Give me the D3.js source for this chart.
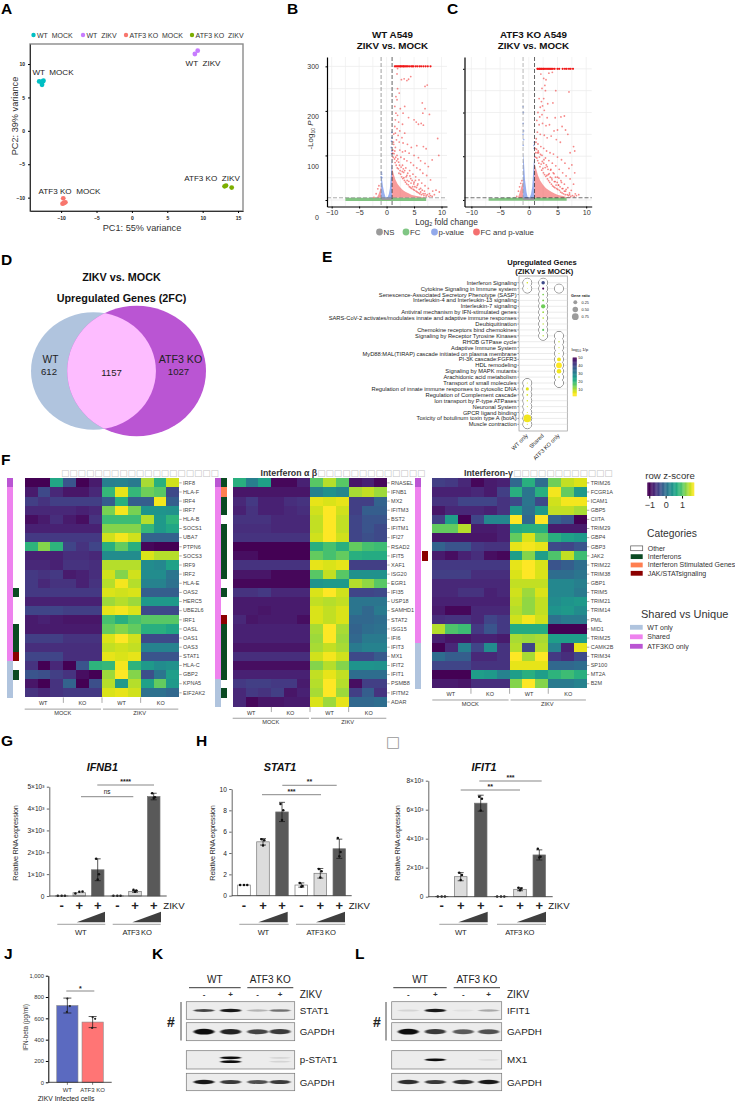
<!DOCTYPE html>
<html>
<head>
<meta charset="utf-8">
<script src="https://cdn.jsdelivr.net/npm/d3@7/dist/d3.min.js"></script>
<style>
  body { margin: 0; background: #fff; }
  text { font-family: "Liberation Sans", Arial, sans-serif; white-space: pre; }
</style>
</head>
<body>
<div id="figure"></div>
<script>
// PCA (panel A)
let pcaGroups = ['WT  MOCK', 'WT  ZIKV', 'ATF3 KO  MOCK', 'ATF3 KO  ZIKV'];
let pcaColors = ['#00bfc4', '#c77cff', '#f8766d', '#7cae00'];
let pcaPc1 = [[-13.1, -12.8, -12.6, -12.7, -12.5], [8.9, 9.3], [-9.7, -9.8, -9.4, -9.6], [13.1, 13.3, 14.1]];
let pcaPc2 = [[7.4, 7.3, 7.4, 6.9, 7.5], [11.5, 12], [-10.1, -10.9, -10.7, -10.8], [-8.3, -8.2, -8.5]];

// Volcano (panels B, C) - envelopes of the solid masses and the single points on top
let volB = {
  redFc: [1, 1.3, 1.6, 2, 2.5, 3, 3.5, 4, 4.5, 5, 5.5, 6, 6.5, 7, 7.5],
  redTop: [72, 58, 46, 36, 28, 22, 18, 15, 12, 10, 9, 8, 7, 6, 5],
  redLeftFc: [-1.8, -1.5, -1.2, -1],
  redLeftTop: [5, 12, 22, 32],
  blueLeftFc: [-1, -0.85, -0.65, -0.4, -0.2, 0],
  blueLeftTop: [55, 48, 30, 15, 7, 5],
  blueRightFc: [0, 0.2, 0.4, 0.6, 0.8, 1],
  blueRightTop: [5, 7, 13, 26, 58, 98],
  blueFc: [0.95, 0.9, 0.85, 0.98, 0.92, 0.97, -0.95, -0.9, -1, -0.85],
  blueP: [152, 132, 118, 110, 104, 140, 62, 58, 52, 50],
  greenFc: [-7.5, -6, -4, -2, -1, 1, 2, 4, 6, 7.2],
  greenTop: [5, 5, 5, 5, 5, 5, 5, 5, 5, 5],
  topFc: [1.5, 1.7, 1.9, 2.1, 2.3, 2.5, 2.6, 2.8, 3, 3.1, 3.3, 3.5, 3.7, 3.9, 4.2, 4.5, 4.7, 4.9, 5.3, 5.6, 6, 6.3, 6.7, 7.1, 7.5, 8],
  redPts: [[2, 295], [1.9, 283], [2.7, 270], [3.2, 272], [3.7, 268], [4, 271], [4.4, 277], [2, 250], [2.3, 240], [1.7, 232], [1.9, 225], [7, 255], [7.4, 258], [6.5, 218], [7, 205], [6.6, 195], [7.8, 192], [6.3, 172], [6.7, 168], [5, 180], [5.4, 175], [5.8, 170], [1.5, 210], [2.5, 205], [3.3, 210], [1.7, 195], [2, 190], [3, 195], [4, 185], [1.6, 180], [2.2, 175], [2.9, 170], [1.5, 165], [1.9, 160], [2.4, 155], [1.6, 150], [2.1, 145], [2.8, 140], [3.3, 150], [1.3, 148], [1.8, 135], [2.3, 130], [3, 128], [3.8, 125], [4.5, 118], [5.5, 122], [6.7, 120], [7.2, 115], [9.3, 138], [9.5, 100], [8.3, 90], [1.3, 125], [1.6, 118], [2.4, 112], [2.9, 108], [3.4, 110], [4.1, 105], [5, 100], [5.8, 95], [6.2, 88], [7, 82], [7.6, 75], [1.9, 100], [2.6, 96], [3.2, 92], [3.7, 88], [4.4, 84], [4.9, 78], [5.5, 72], [6.1, 68], [6.6, 60], [7.3, 55], [8, 45], [2.2, 85], [2.9, 78], [3.5, 72], [4.2, 66], [4.8, 58], [5.3, 52], [5.9, 45], [6.4, 38], [7, 32], [7.6, 26], [8.4, 20], [9, 22], [9.6, 18], [3.1, 62], [3.7, 55], [4.4, 48], [5, 40], [5.6, 33], [6.2, 26], [6.9, 20], [7.8, 14], [-1.6, 25], [-1.4, 32], [-1.9, 14], [-2.3, 6],
    [1.1, 105], [1.2, 96], [1.15, 112], [1.25, 130], [1.35, 104], [1.45, 92], [1.5, 110], [1.55, 84], [1.65, 96], [1.75, 78], [1.85, 88], [1.95, 72], [2.05, 92], [2.15, 70], [2.25, 60], [2.35, 78], [2.45, 66], [2.55, 58], [2.65, 74], [2.75, 52], [2.85, 64], [2.95, 48], [3.05, 70], [3.15, 50], [3.25, 44], [3.3, 66], [3.45, 40], [3.55, 52], [3.65, 36], [3.75, 44], [3.85, 60], [3.95, 34], [4.05, 42], [4.15, 30], [4.25, 54], [4.35, 28], [4.45, 38], [4.55, 26], [4.65, 44], [4.75, 30], [4.85, 24], [4.95, 36], [5.05, 22], [5.15, 30], [5.25, 44], [5.35, 20], [5.45, 28], [5.55, 18], [5.7, 36], [5.8, 16], [5.95, 24], [6.05, 14], [6.2, 18], [6.35, 12], [6.5, 22], [6.65, 14], [6.8, 10], [7, 14], [7.2, 9], [7.4, 12], [7.7, 8], [8, 10], [8.3, 8], [8.7, 12]]
};
let volC = {
  redFc: [1, 1.3, 1.6, 2, 2.5, 3, 3.5, 4, 4.5, 5, 5.5, 6, 6.5, 7, 7.5],
  redTop: [84, 70, 56, 44, 34, 27, 22, 18, 15, 12, 10, 9, 7, 6, 5],
  redLeftFc: [-1.9, -1.6, -1.3, -1],
  redLeftTop: [5, 16, 30, 42],
  blueLeftFc: [-1, -0.85, -0.65, -0.4, -0.2, 0],
  blueLeftTop: [108, 88, 45, 18, 7, 5],
  blueRightFc: [0, 0.2, 0.4, 0.6, 0.8, 1],
  blueRightTop: [5, 7, 14, 30, 72, 112],
  blueFc: [-1, -0.95, -0.98, -0.92, -1, -0.9, -0.97, 0.95, 0.9, 0.98],
  blueP: [213, 200, 175, 158, 150, 138, 125, 118, 125, 132],
  greenFc: [-7, -6, -4, -2, -1, 1, 2, 4, 6, 6.6],
  greenTop: [4, 4, 5, 5, 5, 5, 5, 5, 5, 5],
  topFc: [1.5, 1.6, 1.8, 1.9, 2, 2.2, 2.3, 2.5, 2.6, 2.8, 3, 3.2, 3.4, 3.6, 3.8, 4, 4.2, 4.5, 5, 5.3, 5.9, 6.3, 6.6, 7, 7.3, 7.7],
  redPts: [[2.1, 288], [2.6, 278], [3, 275], [3.5, 290], [4.1, 292], [2.8, 262], [2.3, 255], [2.9, 250], [4.7, 250], [7, 247], [1.8, 232], [2.6, 232], [2.2, 225], [2.4, 215], [2, 212], [2.7, 205], [3.3, 220], [4.2, 222], [1.6, 200], [1.9, 190], [2.3, 195], [3.2, 188], [4.6, 188], [5.6, 190], [6.2, 192], [5.8, 168], [6.4, 160], [6.8, 150], [1.4, 182], [1.8, 172], [2.4, 175], [3, 170], [3.6, 172], [4.4, 158], [5, 160], [1.5, 155], [2, 150], [2.7, 148], [3.2, 142], [3.9, 146], [4.8, 138], [5.5, 132], [7.8, 122], [8, 112], [7.2, 108], [7.5, 80], [8, 62], [1.3, 140], [1.6, 128], [2.1, 122], [2.6, 118], [3.1, 112], [3.7, 108], [4.3, 105], [5, 98], [5.7, 92], [6.3, 84], [7, 72], [1.7, 108], [2.3, 102], [2.9, 96], [3.5, 90], [4.1, 84], [4.7, 78], [5.3, 70], [5.9, 62], [6.5, 55], [7.2, 48], [7.8, 36], [2.6, 84], [3.2, 76], [3.8, 68], [4.4, 60], [5, 52], [5.6, 44], [6.2, 36], [6.8, 28], [7.4, 22], [8.1, 14], [8.7, 12], [3.4, 58], [4, 50], [4.6, 42], [5.2, 34], [5.8, 26], [6.4, 20], [7.1, 16], [-1.6, 30], [-1.8, 20], [-1.4, 38], [-2.1, 8], [-1.2, 44],
    [1.1, 118], [1.2, 108], [1.25, 132], [1.15, 98], [1.35, 116], [1.4, 96], [1.5, 108], [1.55, 90], [1.65, 112], [1.75, 84], [1.85, 98], [1.95, 76], [2.05, 104], [2.15, 82], [2.25, 68], [2.35, 88], [2.45, 72], [2.55, 62], [2.65, 92], [2.75, 58], [2.85, 74], [2.95, 54], [3.05, 80], [3.15, 56], [3.25, 48], [3.35, 70], [3.45, 44], [3.55, 60], [3.65, 40], [3.75, 52], [3.85, 70], [3.95, 36], [4.05, 46], [4.15, 32], [4.25, 62], [4.35, 30], [4.45, 42], [4.55, 28], [4.65, 52], [4.75, 34], [4.85, 26], [4.95, 40], [5.05, 24], [5.15, 34], [5.25, 50], [5.35, 22], [5.45, 30], [5.55, 18], [5.7, 40], [5.8, 16], [5.95, 26], [6.05, 14], [6.2, 20], [6.35, 12], [6.5, 24], [6.7, 12], [6.9, 10], [7.1, 12], [7.3, 8], [7.6, 10], [7.9, 8], [8.3, 10]]
};
let volLegend = ['NS', 'FC', 'p-value', 'FC and p-value'];
let volLegendColors = ['#9a9a9a', '#80c684', '#92a9ea', '#f47070'];

// Venn (panel D)
let vennCounts = { wtOnly: 612, shared: 1157, koOnly: 1027 };

// Reactome dot plot (panel E)
let pathways = ['Interferon Signaling', 'Cytokine Signaling in Immune system', 'Senescence-Associated Secretory Phenotype (SASP)', 'Interleukin-4 and Interleukin-13 signaling', 'Interleukin-7 signaling', 'Antiviral mechanism by IFN-stimulated genes', 'SARS-CoV-2 activates/modulates innate and adaptive immune responses', 'Deubiquitination', 'Chemokine receptors bind chemokines', 'Signaling by Receptor Tyrosine Kinases', 'RHOB GTPase cycle', 'Adaptive Immune System', 'MyD88:MAL(TIRAP) cascade initiated on plasma membrane', 'PI-3K cascade:FGFR3', 'HDL remodeling', 'Signaling by MAPK mutants', 'Arachidonic acid metabolism', 'Transport of small molecules', 'Regulation of innate immune responses to cytosolic DNA', 'Regulation of Complement cascade', 'Ion transport by P-type ATPases', 'Neuronal System', 'GPCR ligand binding', 'Toxicity of botulinum toxin type A (botA)', 'Muscle contraction'];
let dotGroups = ['WT only', 'Shared', 'ATF3 KO only'];
// [row, gene ratio, log10(1/p)]
let dotsWt = [[0, 0.04, 8], [1, 0.01, 8], [17, 0.02, 8], [18, 0.16, 7], [19, 0.05, 8], [20, 0.03, 8], [21, 0.02, 8], [22, 0.02, 8], [23, 0.95, 6], [24, 0.02, 8]];
let dotsShared = [[0, 0.2, 40], [1, 0.07, 50], [2, 0.05, 14], [3, 0.06, 14], [4, 0.3, 15], [5, 0.05, 12], [6, 0.04, 10], [7, 0.03, 10], [8, 0.07, 16], [9, 0.03, 10]];
let dotsKo = [[1, 0, 8], [9, 0, 8], [10, 0.03, 9], [11, 0.02, 9], [12, 0.02, 9], [13, 0.25, 6], [14, 0.55, 5], [15, 0.35, 6], [16, 0.04, 9], [17, 0, 8]];
let ratioLegend = [0.25, 0.50, 0.75];
let pvalTicks = [50, 40, 30, 20, 10];

// Heatmaps (panel F), row z-scores read by eye: 6 MOCK then 6 ZIKV
let geneSets1 = ['IRF8', 'HLA-F', 'IRF4', 'IRF7', 'HLA-B', 'SOCS1', 'UBA7', 'PTPN6', 'SOCS3', 'IRF9', 'IRF2', 'HLA-E', 'OAS2', 'HERC5', 'UBE2L6', 'IRF1', 'OASL', 'OAS1', 'OAS3', 'STAT1', 'HLA-C', 'GBP2', 'KPNA5', 'EIF2AK2'];
let zScores1 = [
  [-1, -1, .6, -.3, -1, -.8, .15, .2, .1, 1.35, .7, 1.5],
  [-.8, -.4, -.7, -.85, -.85, -.7, .8, 1.6, .8, 1.1, 1, -.4],
  [-.5, -.6, -.5, -.5, -.5, -.5, -.2, .7, -.2, -.2, 1.65, -.2],
  [-.7, -.7, -.7, -.7, -.75, -.7, 1.15, 1.65, 1.15, .4, .4, .35],
  [-.9, -.8, -.65, -.8, -.9, -.6, .85, .85, .85, 1.4, .45, .75],
  [-.75, -.75, -.75, -.75, -.75, -.75, 1.2, 1.2, 1.2, .8, .45, .6],
  [-.55, -.55, -.55, -.55, -.55, -.55, 1.5, 1.65, 1.5, -.15, -.15, -.15],
  [.75, 1.2, .75, -.45, -.6, -.45, .7, 1.05, .7, -.95, -1, -1],
  [-.75, -.75, -.75, -.65, -.65, -.7, .3, .3, .3, 1.55, 1.4, 1.4],
  [-.7, -.7, -.75, -.6, -.6, -.65, 1.4, 1.4, 1.4, .3, .25, .55],
  [-.55, -.6, -.55, -.8, -.75, -.65, 1.5, 1.2, 1.5, .3, .3, .05],
  [-.55, -.7, -.6, -.6, -.75, -.6, 1.4, 1.65, 1.4, .2, .2, 0],
  [-.55, -.55, -.55, -.55, -.55, -.55, 1.55, 1.5, 1.55, -.2, -.2, -.2],
  [-.75, -.75, -.75, -.75, -.75, -.75, 1.3, 1.4, 1.3, .45, .45, .45],
  [-.45, -.45, -.45, -.5, -.5, -.5, 1.6, 1.65, 1.55, -.4, -.4, -.4],
  [-.8, -.75, -.8, -.85, -.85, -.85, .9, .7, .9, 1, 1, 1],
  [-.8, -.8, -.8, -.8, -.8, -.8, 1.05, 1.2, 1.05, .7, .7, .6],
  [-.5, -.5, -.5, -.6, -.6, -.6, 1.55, 1.7, 1.5, -.4, -.4, -.4],
  [-.65, -.65, -.65, -.65, -.65, -.65, 1.45, 1.5, 1.45, .2, .2, .2],
  [-.45, -.45, -.45, -.65, -.65, -.65, 1.6, 1.55, 1.6, -.3, -.3, -.3],
  [-.6, -1, -.7, -1, -.3, .75, .8, 1.65, .75, .45, .3, .35],
  [-.3, -.35, -.5, -.6, -.9, -1, 1.3, 1.7, 1.2, -.35, .05, .5],
  [-.85, -1, -.6, -.15, -1, -.35, 1.4, .45, 1.4, .55, 1.05, .45],
  [-.6, -.7, -.6, -.55, -.55, -.55, 1.55, 1.6, 1.5, 0, 0, -.1]
];
let shared1 = 'KPPPPPPPPPPPPPPPPPPPWWWW';
let cats1 = ['', '', '', '', '', '', '', '', '', '', '', '', 'I', '', '', '', 'I', 'I', 'I', 'J', '', 'I', '', ''];

let geneSets2 = ['RNASEL', 'IFNB1', 'MX2', 'IFITM3', 'BST2', 'IFITM1', 'IFI27', 'RSAD2', 'IFIT5', 'XAF1', 'ISG20', 'EGR1', 'IFI35', 'USP18', 'SAMHD1', 'STAT2', 'ISG15', 'IFI6', 'IFIT3', 'MX1', 'IFIT2', 'IFIT1', 'PSMB8', 'IFITM2', 'ADAR'];
let zScores2 = [
  [.7, .15, .55, -.95, -.95, -.75, 1, 1.4, 1, -.85, -.75, -.95],
  [-.85, -.85, -.85, -.85, -.85, -.85, .2, .35, .25, 1.35, 1.45, 1.3],
  [-.7, -.55, -.75, -.75, -.65, -.6, 1.6, 1.55, 1.6, -.5, -.5, -.15],
  [-.75, -.6, -.75, -.75, -.7, -.65, 1.5, 1.7, 1.5, -.5, -.2, -.2],
  [-.6, -.6, -.6, -.7, -.7, -.7, 1.45, 1.7, 1.45, -.45, -.3, -.3],
  [-.65, -.65, -.65, -.7, -.7, -.7, 1.45, 1.7, 1.45, -.45, -.3, -.4],
  [-.6, -.6, -.6, -.6, -.6, -.6, 1.5, 1.7, 1.5, -.45, -.35, -.4],
  [-1, -1, -1, -1, -1, -1, .7, .9, .7, 1.05, .9, .85],
  [-.9, -.9, -1, -1, -1, -1, 1.05, .9, 1.05, .7, .65, .65],
  [-.6, -.6, -.6, -.6, -.6, -.6, 1.6, 1.55, 1.6, -.5, -.5, -.5],
  [-.85, -.85, -.85, -.95, -.95, -.95, 1, 1.45, 1, .35, .35, .35],
  [-.95, -.95, -.95, -.95, -.95, -.95, .4, .45, .45, 1.4, 1.25, 1],
  [-.6, -.6, -.55, -.7, -.7, -.7, 1.55, 1.7, 1.5, -.45, -.45, -.4],
  [-.8, -.8, -.8, -.8, -.8, -.8, 1.45, 1.4, 1.45, .05, .05, .05],
  [-.8, -.8, -.85, -.8, -.8, -.8, 1.55, 1.45, 1.55, .05, -.1, .1],
  [-.7, -.85, -.8, -.8, -.8, -.9, 1.55, 1.45, 1.55, -.1, -.1, -.05],
  [-.75, -.75, -.75, -.75, -.75, -.75, 1.35, 1.7, 1.35, -.15, -.05, 0],
  [-.75, -.75, -.75, -.75, -.75, -.75, 1.3, 1.7, 1.3, -.1, .1, .1],
  [-.85, -.85, -.85, -.85, -.85, -.85, 1.35, 1.45, 1.35, .1, .2, .2],
  [-.65, -.65, -.65, -.65, -.65, -.65, 1.5, 1.65, 1.5, -.4, -.4, -.25],
  [-.9, -.9, -.9, -.9, -.9, -.9, 1.2, 1.4, 1.2, .4, .4, .35],
  [-.75, -.75, -.75, -.75, -.75, -.75, 1.45, 1.6, 1.45, -.05, -.05, -.05],
  [-.55, -.5, -.5, -.55, -.55, -.8, 1.4, 1.7, 1.4, -.9, -.5, -.5],
  [-.7, -.55, -.6, -.5, -.85, -.75, 1.35, 1.7, 1.3, -.5, -.2, -.6],
  [-.7, -.95, -.85, -.85, -.8, -.8, 1.55, 1.3, 1.6, -.1, -.1, -.05]
];
let shared2 = 'KPPPPPPPPPPPPPPPPPPPPPWWW';
let cats2 = ['I', 'S', 'I', 'I', '', 'I', 'I', 'I', 'I', 'I', 'I', '', 'I', '', '', 'J', 'I', 'I', 'I', 'I', 'I', 'I', '', 'I', ''];

let geneSets3 = ['TRIM26', 'FCGR1A', 'ICAM1', 'GBP5', 'CIITA', 'TRIM29', 'GBP4', 'GBP3', 'JAK2', 'TRIM22', 'TRIM38', 'GBP1', 'TRIM5', 'TRIM21', 'TRIM14', 'PML', 'MID1', 'TRIM25', 'CAMK2B', 'TRIM34', 'SP100', 'MT2A', 'B2M'];
let zScores3 = [
  [-.5, -.55, -.7, -.95, -.8, -.75, -.1, .7, -.05, 1.1, 1.45, 1.55],
  [-.75, -.75, -.75, -.7, -.8, -.5, .7, .05, .7, 1.65, 1.05, .45],
  [-.6, -.6, -.45, -.45, -.45, -.6, -.4, .05, -.4, 1.5, 1.65, 1.65],
  [-.85, -.7, -.7, -.7, -.75, -.6, .45, 0, .45, 1.45, 1.45, 1.35],
  [-.5, .5, -1, -.45, .25, .25, 1.7, -.1, 1.7, -.15, -.3, -1],
  [1.05, 1.05, 1.4, -.8, -.8, -.75, .65, .7, .7, -.8, -.8, -.8],
  [-.85, -.85, -.85, -.85, -.85, -.75, 1.05, 1.55, 1.05, .7, .55, .45],
  [-.15, -.3, -.3, -.55, -.6, -.6, 1.6, 1.65, 1.6, -.4, -.45, -.3],
  [-.8, -.9, -.75, -.65, -.9, -.95, .5, 1.2, .5, .95, 1.45, .85],
  [-.55, -.55, -.55, -.55, -.55, -.55, 1.6, 1.7, 1.55, -.3, -.2, -.05],
  [-.5, -.5, -.5, -.65, -.65, -.65, 1.55, 1.7, 1.55, -.05, -.05, .05],
  [-.7, -.7, -.7, -.7, -.7, -.7, 1.45, 1.45, 1.45, .25, .25, .15],
  [-.7, -.7, -.6, -.6, -.75, -.7, 1.5, 1.3, 1.55, .25, .25, .1],
  [-.75, -.75, -.75, -.75, -.75, -.75, 1.45, 1.25, 1.45, .3, .4, .45],
  [-.8, -.95, -.95, -.7, -.7, -.7, 1.4, 1.25, 1.45, .4, .45, .3],
  [-.65, -.6, -.6, -.7, -.45, -.55, 1.5, 1.65, 1.5, 0, .1, .1],
  [1.4, .95, .85, -.55, -.3, -.55, .65, .65, .65, -1, -1, -1],
  [-.75, -.85, -.85, -.75, -.75, -.8, 1.35, 1.3, 1.35, .5, .5, .5],
  [-1, -.7, .15, -.45, .3, -.6, 1.4, -.45, 1.4, .2, -.75, 1.6],
  [-.05, -.2, -.2, -.7, -.7, -.6, 1.7, 1.35, 1.7, -.55, -.65, -.4],
  [-.45, -.45, -.45, -.6, -.6, -.6, 1.6, 1.6, 1.6, -.1, -.1, -.05],
  [-1, -1, -1, .5, .45, .2, .5, .7, .5, .75, .85, .7],
  [-.8, -.8, -.85, -.65, -.65, -.65, 1.2, 1.7, 1.2, .1, .1, .2]
];
let shared3 = 'KPPPPPPPPPPPPPPPPPWWWWW';
let cats3 = ['', '', '', '', '', '', '', '', 'J', '', '', '', '', '', '', '', '', '', '', '', '', '', ''];

let catNames = ['Other', 'Interferons', 'Interferon Stimulated Genes', 'JAK/STATsignaling'];
let shareNames = ['WT only', 'Shared', 'ATF3KO only'];

// qPCR (panels G, H, I)
let conditions = ['WT-', 'WT+', 'WT++', 'KO-', 'KO+', 'KO++'];
let ifnb1Means = [5, 150, 1200, 5, 210, 4550];
let ifnb1Errs = [3, 30, 500, 3, 40, 150];
let ifnb1Pts = [[10, 10, 10], [120, 210, 200], [1700, 1000, 750], [10, 10, 10], [290, 250, 200], [4700, 4520, 4480]];
let stat1Means = [1, 5.05, 7.85, 1, 2.1, 4.4];
let stat1Errs = [.03, .3, .9, .2, .45, .9];
let stat1Pts = [[1, 1, 1], [5.3, 5.2, 4.7], [8.6, 8, 7.1], [1.2, .9, .85], [2.5, 2.3, 1.7], [5.4, 4.1, 3.7]];
let ifit1Means = [10, 1380, 6450, 10, 510, 2880];
let ifit1Errs = [5, 280, 550, 5, 100, 350];
let ifit1Pts = [[10, 10, 10], [1650, 1500, 1150], [6900, 6750, 5950], [10, 10, 10], [620, 560, 450], [3300, 2750, 2700]];

// ELISA (panel J)
let elisaGroups = ['WT', 'ATF3 KO'];
let elisaMeans = [720, 565];
let elisaErrs = [70, 52];
let elisaPts = [[785, 715, 660], [610, 595, 510]];

// Western blots (panels K, L): band strength per lane
let blotLanes = ['WT-', 'WT+', 'KO-', 'KO+'];
let stat1Band = [.75, .95, .25, .55];
let gapdhK1Band = [1, .9, .75, .8];
let pStat1Band = [0, 1, 0, .1];
let gapdhK2Band = [.95, .8, .7, .8];
let ifit1Band = [.1, .95, .05, .3];
let gapdhL1Band = [1, .8, .65, .7];
let mx1Band = [0, 1, 0, .07];
let gapdhL2Band = [.85, .8, .85, .95];

// ---------- helpers ----------
let svg = d3.select('#figure').append('svg').attr('width', 735).attr('height', 1105)
  .style('display', 'block');

let defs = svg.append('defs');
defs.append('filter').attr('id', 'bandBlur').attr('x', '-30%').attr('y', '-100%').attr('width', '160%').attr('height', '300%')
  .append('feGaussianBlur').attr('stdDeviation', '0.9 0.5');

function label(x, y, str, size, opts) {
  opts = opts || {};
  let t = svg.append('text').attr('x', x).attr('y', y).text(str)
    .attr('font-size', size)
    .attr('fill', opts.fill || '#222')
    .attr('text-anchor', opts.anchor || 'start');
  if (opts.weight) t.attr('font-weight', opts.weight);
  if (opts.italic) t.attr('font-style', 'italic');
  if (opts.spacing) t.attr('letter-spacing', opts.spacing);
  if (opts.rotate !== undefined) t.attr('transform', 'rotate(' + opts.rotate + ' ' + x + ' ' + y + ')');
  return t;
}

function panelLetter(x, y, str) {
  label(x, y, str, 15.5, { weight: 'bold', fill: '#000' });
}

function hLine(x1, x2, y, color, width) {
  svg.append('line').attr('x1', x1).attr('x2', x2).attr('y1', y).attr('y2', y)
    .attr('stroke', color).attr('stroke-width', width);
}

panelLetter(1, 13.5, 'A');
panelLetter(287, 13.5, 'B');
panelLetter(447, 13.5, 'C');
panelLetter(1, 265, 'D');
panelLetter(322, 262, 'E');
panelLetter(1, 465, 'F');
panelLetter(1, 746, 'G');
panelLetter(196, 746, 'H');
panelLetter(4, 959, 'J');
panelLetter(152, 959, 'K');
panelLetter(355, 959, 'L');
label(393, 747, '\u25A1', 15, { fill: '#999', anchor: 'middle' }).style('font-family', 'DejaVu Sans');

// ---------- panel A ----------
function drawPca() {
  let x = d3.scaleLinear().domain([-14.4, 15.7]).range([30, 243]);
  let y = d3.scaleLinear().domain([-12, 13]).range([211, 44]);
  svg.append('rect').attr('x', 30).attr('y', 44).attr('width', 213).attr('height', 167)
    .attr('fill', 'none').attr('stroke', '#8a8a8a').attr('stroke-width', 1.4);
  let xAxis = svg.append('g').attr('transform', 'translate(0,211)')
    .call(d3.axisBottom(x).tickValues([-10, -5, 0, 5, 10, 15]).tickSize(2).tickSizeOuter(0));
  let yAxis = svg.append('g').attr('transform', 'translate(30,0)')
    .call(d3.axisLeft(y).tickValues([-10, -5, 0, 5, 10]).tickSize(2).tickSizeOuter(0));
  [xAxis, yAxis].forEach(function (a) {
    a.selectAll('text').attr('font-size', 5).attr('font-weight', 'bold').attr('fill', '#222');
    a.select('.domain').attr('stroke', '#333');
  });
  pcaGroups.forEach(function (group, i) {
    svg.append('g').selectAll('circle').data(pcaPc1[i]).enter().append('circle')
      .attr('cx', function (d) { return x(d); })
      .attr('cy', function (d, j) { return y(pcaPc2[i][j]); })
      .attr('r', 2.4).attr('fill', pcaColors[i]);
  });
  label(142, 230.5, 'PC1: 55% variance', 9.2, { anchor: 'middle', fill: '#333' });
  label(18, 116, 'PC2: 39% variance', 9.2, { anchor: 'middle', rotate: -90, fill: '#333' });
  label(53, 74.5, pcaGroups[0], 8.1, { anchor: 'middle' });
  label(203, 66, pcaGroups[1], 8.1, { anchor: 'middle' });
  label(69.5, 193.5, pcaGroups[2], 8.1, { anchor: 'middle' });
  label(212, 181, pcaGroups[3], 8.1, { anchor: 'middle' });
  // legend on top
  let legendX = d3.scaleOrdinal().domain(pcaGroups).range([33.5, 83, 126, 192]);
  pcaGroups.forEach(function (group, i) {
    svg.append('circle').attr('cx', legendX(group)).attr('cy', 35).attr('r', 2.2).attr('fill', pcaColors[i]);
    label(legendX(group) + 3.5, 37.6, group, 7, { fill: '#333' });
  });
}
drawPca();

// ---------- panels B, C ----------
function drawVolcano(vol, o) {
  let x = d3.scaleLinear().domain(o.xDomain).range([o.left, o.right]);
  let y = d3.scaleLinear().domain(o.yDomain).range([206.5, 57]);
  let g = svg.append('g');

  // grid
  g.selectAll('.vgrid').data([-10, -7.5, -5, -2.5, 0, 2.5, 5, 7.5, 10]).enter().append('line')
    .attr('x1', function (d) { return x(d); }).attr('x2', function (d) { return x(d); })
    .attr('y1', 57).attr('y2', 206).attr('stroke', '#eeeeee').attr('stroke-width', 0.7);
  g.selectAll('.hgrid').data([0, 50, 100, 150, 200, 250, 300]).enter().append('line')
    .attr('x1', o.left).attr('x2', o.right)
    .attr('y1', function (d) { return y(d); }).attr('y2', function (d) { return y(d); })
    .attr('stroke', '#ececec').attr('stroke-width', 0.8);

  function mass(fcs, tops, base, color, op) {
    let rows = fcs.map(function (f, i) { return { fc: f, top: tops[i] }; });
    g.append('path').datum(rows)
      .attr('d', d3.area().x(function (d) { return x(d.fc); }).y0(y(base)).y1(function (d) { return y(d.top); }))
      .attr('fill', color).attr('opacity', op);
  }
  mass(vol.greenFc, vol.greenTop, -2, '#6dbb6d', 0.85);
  mass([-1, -0.4, 0.4, 1], [5, 6, 6, 5], 0, '#9a9a9a', 1);
  mass(vol.blueLeftFc, vol.blueLeftTop, 4, '#7f9bea', 0.8);
  mass(vol.blueRightFc, vol.blueRightTop, 4, '#7f9bea', 0.8);
  mass(vol.redFc, vol.redTop, 5, '#f24a4a', 0.55);
  mass(vol.redLeftFc, vol.redLeftTop, 5, '#f24a4a', 0.55);

  g.selectAll('.blue').data(vol.blueFc).enter().append('circle')
    .attr('cx', function (d) { return x(d); })
    .attr('cy', function (d, i) { return y(vol.blueP[i]); })
    .attr('r', 0.9).attr('fill', '#7f9bea').attr('opacity', 0.75);
  g.selectAll('.red').data(vol.redPts).enter().append('circle')
    .attr('cx', function (d) { return x(d[0]); })
    .attr('cy', function (d) { return y(d[1]); })
    .attr('r', 0.9).attr('fill', '#f03a3a').attr('opacity', 0.6);
  g.selectAll('.top').data(vol.topFc).enter().append('circle')
    .attr('cx', function (d) { return x(d); })
    .attr('cy', y(300))
    .attr('r', 1.1).attr('fill', '#f01818');

  // cut-offs
  [[-1, o.leftCut], [1, '#222']].forEach(function (c) {
    g.append('line').attr('x1', x(c[0])).attr('x2', x(c[0])).attr('y1', 57).attr('y2', 206)
      .attr('stroke', c[1]).attr('stroke-width', 0.7).attr('stroke-dasharray', '4 2');
  });
  g.append('line').attr('x1', o.left).attr('x2', o.right).attr('y1', y(5)).attr('y2', y(5))
    .attr('stroke', o.hCut).attr('stroke-width', 0.7).attr('stroke-dasharray', '4 2');

  // axes
  let xAxis = g.append('g').attr('transform', 'translate(0,206.5)')
    .call(d3.axisBottom(x).tickValues([-10, -5, 0, 5, 10]).tickSize(2).tickSizeOuter(0).tickFormat(d3.format('d')));
  let yAxis = g.append('g').attr('transform', 'translate(' + o.left + ',0)')
    .call(d3.axisLeft(y).tickValues([0, 100, 200, 300]).tickSize(1.5).tickSizeOuter(0).tickFormat(''));
  xAxis.selectAll('text').attr('font-size', 7.2).attr('fill', '#333').attr('dy', '0.55em');
  xAxis.select('.domain').attr('stroke', '#000').attr('stroke-width', 1.2);
  yAxis.select('.domain').attr('stroke', '#000').attr('stroke-width', 1.2);

  label(o.titleX, 38, o.title, 9.8, { weight: 'bold', anchor: 'middle', fill: '#111' });
  label(o.titleX, 48.5, 'ZIKV vs. MOCK', 9.8, { weight: 'bold', anchor: 'middle', fill: '#111' });
}
drawVolcano(volB, { xDomain: [-10.85, 11], yDomain: [-14.6, 321], left: 327, right: 447, leftCut: '#777', hCut: '#888', titleX: 392.5, title: 'WT A549' });
drawVolcano(volC, { xDomain: [-11.2, 10.96], yDomain: [-15, 327], left: 464.5, right: 591.7, leftCut: '#999', hCut: '#333', titleX: 533.5, title: 'ATF3 KO A549' });

// the y labels sit lower than their ticks in the reference, so they get a scale of their own
let volLabelY = d3.scaleLinear().domain([0, 300]).range([219.5, 68.5]);
[0, 100, 200, 300].forEach(function (v) {
  label(319, volLabelY(v), v, 7, { anchor: 'end', fill: '#333' });
});
let logLabel = label(313, 135, '-Log', 8, { anchor: 'middle', rotate: -90, fill: '#333' });
logLabel.append('tspan').attr('font-size', 5).attr('dy', 1.6).text('10');
logLabel.append('tspan').attr('dy', -1.6).attr('font-style', 'italic').text(' P');
let fcLabel = label(446.5, 224.5, 'Log', 8.4, { anchor: 'middle', fill: '#333' });
fcLabel.append('tspan').attr('font-size', 5.4).attr('dy', 1.6).text('2');
fcLabel.append('tspan').attr('dy', -1.6).text(' fold change');
let volLegendX = d3.scaleOrdinal().domain(volLegend).range([379.5, 406, 434.5, 476.5]);
volLegend.forEach(function (name, i) {
  svg.append('circle').attr('cx', volLegendX(name)).attr('cy', 232).attr('r', 3.4).attr('fill', volLegendColors[i]);
  label(volLegendX(name) + 4, 234.7, name, 7.8, { fill: '#333' });
});

// ---------- panel D ----------
function drawVenn() {
  let radius = d3.scaleSqrt().domain([0, vennCounts.shared + vennCounts.koOnly]).range([0, 69.4]);
  let rWt = radius(vennCounts.wtOnly + vennCounts.shared);
  let rKo = radius(vennCounts.shared + vennCounts.koOnly);
  let cy = 371;
  let squash = 0.94;
  let wtX = 31 + rWt;
  let koX = 206 - rKo;
  defs.append('clipPath').attr('id', 'wtClip').append('ellipse')
    .attr('cx', wtX).attr('cy', cy).attr('rx', rWt).attr('ry', rWt * squash);
  svg.append('ellipse').attr('cx', wtX).attr('cy', cy).attr('rx', rWt).attr('ry', rWt * squash).attr('fill', '#b0c4de');
  svg.append('ellipse').attr('cx', koX).attr('cy', cy).attr('rx', rKo).attr('ry', rKo * squash).attr('fill', '#ba55d3');
  svg.append('ellipse').attr('cx', koX).attr('cy', cy).attr('rx', rKo).attr('ry', rKo * squash)
    .attr('fill', '#fdbcff').attr('clip-path', 'url(#wtClip)');
  label(121.5, 281, 'ZIKV vs. MOCK', 10.8, { weight: 'bold', anchor: 'middle', fill: '#111' });
  label(121.5, 301.5, 'Upregulated Genes (2FC)', 10.8, { weight: 'bold', anchor: 'middle', fill: '#111' });
  label(50.5, 362.5, 'WT', 10.2, { anchor: 'middle' });
  label(49, 375, vennCounts.wtOnly, 9.6, { anchor: 'middle' });
  label(111.5, 375.5, vennCounts.shared, 9.6, { anchor: 'middle' });
  label(180.5, 362.5, 'ATF3 KO', 10.6, { anchor: 'middle' });
  label(178.5, 375, vennCounts.koOnly, 9.6, { anchor: 'middle' });
}
drawVenn();

// ---------- panel E ----------
function drawDots() {
  let y = d3.scalePoint().domain(d3.range(pathways.length)).range([282.7, 424.3]);
  let x = d3.scalePoint().domain(dotGroups).range([527.3, 559]);
  let size = d3.scaleSqrt().domain([0, 1]).range([0, 3.9]);
  let color = d3.scaleSequential(function (t) { return d3.interpolateViridis(1 - t); }).domain([5, 50]);

  svg.append('rect').attr('x', 519).attr('y', 276).attr('width', 48.3).attr('height', 155)
    .attr('fill', '#fff').attr('stroke', '#999').attr('stroke-width', 0.7);
  svg.append('g').selectAll('line').data(pathways).enter().append('line')
    .attr('x1', 519).attr('x2', 567.3)
    .attr('y1', function (d, i) { return y(i); }).attr('y2', function (d, i) { return y(i); })
    .attr('stroke', '#e2e2e2').attr('stroke-width', 0.7);

  [[dotsWt, 'WT only'], [dotsShared, 'Shared'], [dotsKo, 'ATF3 KO only']].forEach(function (set) {
    let g = svg.append('g');
    // outlined circles first and white ones over them, so runs read as a capsule
    g.selectAll('.ring').data(set[0]).enter().append('circle')
      .attr('cx', x(set[1])).attr('cy', function (d) { return y(d[0]); })
      .attr('r', 4.4).attr('fill', '#fff').attr('stroke', '#222').attr('stroke-width', 0.6);
    g.selectAll('.fill').data(set[0]).enter().append('circle')
      .attr('cx', x(set[1])).attr('cy', function (d) { return y(d[0]); })
      .attr('r', 4.1).attr('fill', '#fff');
    g.selectAll('.dot').data(set[0]).enter().append('circle')
      .attr('cx', x(set[1])).attr('cy', function (d) { return y(d[0]); })
      .attr('r', function (d) { return size(d[1]); })
      .attr('fill', function (d) { return color(d[2]); });
  });

  pathways.forEach(function (name, i) {
    hLine(517.3, 519, y(i), '#555', 0.5);
    label(516.6, y(i) + 2, name, 5.75, { anchor: 'end', fill: '#222' });
  });
  x.domain().forEach(function (name) {
    label(x(name) + 1, 436, name, 5.6, { anchor: 'end', rotate: -45, fill: '#222' });
  });

  label(542, 265, 'Upregulated Genes', 7.6, { anchor: 'middle', weight: 'bold', fill: '#111' });
  label(544.3, 273.5, '(ZIKV vs MOCK)', 7.6, { anchor: 'middle', weight: 'bold', fill: '#111' });

  // ratio legend
  label(580.5, 297, 'Gene ratio', 3.8, { anchor: 'middle', weight: 'bold' });
  let ratioY = d3.scalePoint().domain(ratioLegend).range([302.3, 316.7]);
  ratioLegend.forEach(function (r) {
    svg.append('circle').attr('cx', 575.3).attr('cy', ratioY(r)).attr('r', size(r)).attr('fill', '#9c9c9c');
    label(581.5, ratioY(r) + 1.5, r.toFixed(2), 3.8);
  });

  // log10 1/p legend
  let barY = d3.scaleLinear().domain([50, 10]).range([357.5, 389.5]);
  let steps = d3.range(50, 2, -1);
  svg.append('g').selectAll('rect').data(steps).enter().append('rect')
    .attr('x', 572.7).attr('width', 4).attr('y', function (d) { return barY(d); }).attr('height', 1.2)
    .attr('fill', function (d) { return color(d); });
  pvalTicks.forEach(function (v) {
    label(578.3, barY(v) + 1.5, v, 3.8);
  });
  let pTitle = label(571.5, 351, 'log', 4.4);
  pTitle.append('tspan').attr('font-size', 3.2).attr('dy', 1).text('10');
  pTitle.append('tspan').attr('dy', -1).text(' 1/p');
}
drawDots();

// ---------- panel F ----------
let zColor = d3.scaleSequential(d3.interpolateViridis).domain([-1, 1.7]);
let shareColor = { K: '#ba55d3', P: '#ee82ee', W: '#b0c4de' };
let catColor = { I: '#0a4a22', S: '#ff7f50', J: '#8b0000' };

function drawHeat(genes, z, shared, cats, o) {
  let rowH = 9.13;
  let y = d3.scaleBand().domain(genes).range([478.3, 478.3 + genes.length * rowH]);
  let x = d3.scaleBand().domain(d3.range(12)).range([o.left, o.left + 154.6]);
  let g = svg.append('g').attr('shape-rendering', 'crispEdges');
  z.forEach(function (row, i) {
    g.selectAll('.c' + i).data(row).enter().append('rect')
      .attr('x', function (d, j) { return x(j); })
      .attr('y', y(genes[i]))
      .attr('width', function (d, j) { return j === 11 ? x.bandwidth() : x.bandwidth() + 0.6; })
      .attr('height', i === genes.length - 1 ? y.bandwidth() : y.bandwidth() + 0.6)
      .attr('fill', function (d) { return zColor(d); });
  });
  // row side bars
  g.selectAll('.share').data(genes).enter().append('rect')
    .attr('x', o.shareX).attr('width', 6)
    .attr('y', function (d) { return y(d); }).attr('height', y.bandwidth() + 0.5)
    .attr('fill', function (d, i) { return shareColor[shared[i]]; });
  g.selectAll('.cat').data(genes).enter().append('rect')
    .attr('x', o.shareX + 6.3).attr('width', 6)
    .attr('y', function (d) { return y(d); }).attr('height', y.bandwidth() + 0.5)
    .attr('fill', function (d, i) { return cats[i] ? catColor[cats[i]] : 'none'; });

  let right = o.left + 154.6;
  let axis = svg.append('g').attr('transform', 'translate(' + right + ',0)')
    .call(d3.axisRight(y).tickSize(2.4).tickPadding(1.4));
  axis.select('.domain').remove();
  axis.selectAll('line').attr('stroke', '#555').attr('stroke-width', 0.5);
  axis.selectAll('text').attr('font-size', 5.5).attr('fill', '#444');

  // column groups under the heatmap
  let bottom = 478.3 + genes.length * rowH;
  let groupX = d3.scalePoint().domain(['WT', 'KO', 'WT2', 'KO2']).range([o.left + 18.5, o.left + 136]);
  groupX.domain().forEach(function (name) {
    label(groupX(name), bottom + 8, name.slice(0, 2), 5.5, { anchor: 'middle', fill: '#333' });
  });
  [x(3), x(6), x(9)].forEach(function (tx) {
    svg.append('line').attr('x1', tx).attr('x2', tx).attr('y1', bottom).attr('y2', bottom + 5.5)
      .attr('stroke', '#555').attr('stroke-width', 0.5);
  });
  hLine(o.left, x(6) - 1, bottom + 11.7, '#777', 0.7);
  hLine(x(6) + 1, right - 1, bottom + 11.7, '#777', 0.7);
  label(o.left + 38, bottom + 17.5, 'MOCK', 5.7, { anchor: 'middle', fill: '#333' });
  label(o.left + 115, bottom + 17.5, 'ZIKV', 5.7, { anchor: 'middle', fill: '#333' });

  // titles: the CJK part of these titles comes out as empty boxes in the reference
  let t = label(o.titleX, 476, o.title, 8.8, { weight: 'bold', fill: '#333' });
  t.append('tspan').attr('fill', '#c4c4c4').attr('font-weight', 'normal')
    .style('font-family', 'DejaVu Sans').text(o.boxes);
}
drawHeat(geneSets1, zScores1, shared1, cats1, { left: 24.7, shareX: 7, titleX: 61, title: '', boxes: '\u25A1'.repeat(19) });
drawHeat(geneSets2, zScores2, shared2, cats2, { left: 232.7, shareX: 215, titleX: 260.5, title: 'Interferon \u03B1 \u03B2', boxes: '\u25A1'.repeat(13) });
drawHeat(geneSets3, zScores3, shared3, cats3, { left: 432.3, shareX: 415.3, titleX: 464, title: 'Interferon-\u03B3', boxes: '\u25A1'.repeat(12) });

// colour key
function drawKeys() {
  label(670, 479, 'row z-score', 9.6, { anchor: 'middle', fill: '#333' });
  let zx = d3.scaleLinear().domain([-1.12, 1.73]).range([647.3, 694]);
  let steps = d3.range(-1.12, 1.73, 0.05);
  svg.append('g').selectAll('rect').data(steps).enter().append('rect')
    .attr('x', function (d) { return zx(d); }).attr('y', 482.5).attr('height', 13.5)
    .attr('width', 1.1).attr('fill', function (d) { return zColor(d); });
  let a = svg.append('g').attr('transform', 'translate(0,496)')
    .call(d3.axisBottom(zx).tickValues([-1, 0, 1]).tickSize(2.5).tickSizeOuter(0).tickFormat(function (d) { return d < 0 ? '\u22121' : d; }));
  a.select('.domain').remove();
  a.selectAll('text').attr('font-size', 9).attr('fill', '#333');

  label(672, 536.5, 'Categories', 10.3, { anchor: 'middle', fill: '#333' });
  let catY = d3.scalePoint().domain(catNames).range([548.3, 573.3]);
  let catFill = { 'Other': '#fff', 'Interferons': catColor.I, 'Interferon Stimulated Genes': catColor.S, 'JAK/STATsignaling': catColor.J };
  catNames.forEach(function (name) {
    svg.append('rect').attr('x', 630.7).attr('y', catY(name) - 2.4).attr('width', 12).attr('height', 4.8)
      .attr('fill', catFill[name]).attr('stroke', name === 'Other' ? '#555' : 'none').attr('stroke-width', 0.7);
    label(647.7, catY(name) + 2.3, name, 7, { fill: '#333' });
  });

  label(684.7, 617.5, 'Shared vs Unique', 11, { anchor: 'middle', fill: '#333' });
  let shareY = d3.scalePoint().domain(shareNames).range([627.3, 646.3]);
  let shareFill = { 'WT only': shareColor.W, 'Shared': shareColor.P, 'ATF3KO only': shareColor.K };
  shareNames.forEach(function (name) {
    svg.append('rect').attr('x', 630).attr('y', shareY(name) - 2.4).attr('width', 12.7).attr('height', 4.8)
      .attr('fill', shareFill[name]);
    label(647.3, shareY(name) + 2.3, name, 7, { fill: '#333' });
  });
}
drawKeys();

// ---------- panels G, H, I ----------
function drawBars(o) {
  let y = d3.scaleLinear().domain([0, o.max]).range([o.y0, o.yTop]);
  let x = d3.scaleOrdinal().domain(conditions).range(o.centers);
  let fills = ['#fff', '#dcdcdc', '#595959', '#fff', '#dcdcdc', '#595959'];
  let bw = 12.6;
  let g = svg.append('g');

  g.selectAll('.bar').data(o.means).enter().append('rect')
    .attr('x', function (d, i) { return x(conditions[i]) - bw / 2; })
    .attr('width', bw)
    .attr('y', function (d) { return y(d); })
    .attr('height', function (d) { return o.y0 - y(d); })
    .attr('fill', function (d, i) { return fills[i]; })
    .attr('stroke', '#777').attr('stroke-width', 0.7);

  o.means.forEach(function (m, i) {
    let cx = x(conditions[i]);
    let hi = y(m + o.errs[i]);
    let lo = y(Math.max(m - o.errs[i], 0));
    if (lo - hi > 1.5) {
      g.append('line').attr('x1', cx).attr('x2', cx).attr('y1', hi).attr('y2', lo).attr('stroke', '#111').attr('stroke-width', 0.7);
      g.append('line').attr('x1', cx - 3).attr('x2', cx + 3).attr('y1', hi).attr('y2', hi).attr('stroke', '#111').attr('stroke-width', 0.7);
      g.append('line').attr('x1', cx - 3).attr('x2', cx + 3).attr('y1', lo).attr('y2', lo).attr('stroke', '#111').attr('stroke-width', 0.7);
    }
    g.selectAll('.p' + i).data(o.pts[i]).enter().append('circle')
      .attr('cx', function (d, j) { return cx + [-3, 2.5, 0][j] * (lo - hi > 1.5 ? 0.5 : 1.3); })
      .attr('cy', function (d) { return y(d); })
      .attr('r', 1.25).attr('fill', '#111');
  });

  let yAxis = g.append('g').attr('transform', 'translate(' + o.axisX + ',0)')
    .call(d3.axisLeft(y).tickValues(o.ticks).tickSize(2.5).tickSizeOuter(0).tickFormat(o.format));
  yAxis.selectAll('text').attr('font-size', 6.6).attr('fill', '#222').attr('dx', '0.1em');
  yAxis.select('.domain').attr('stroke', '#666').attr('stroke-width', 1);
  yAxis.selectAll('line').attr('stroke', '#666');
  hLine(o.axisX, o.axisEnd, o.y0, '#444', 0.9);

  label(o.titleX, 770.5, o.title, 10.8, { weight: 'bold', italic: true, anchor: 'middle', fill: '#111' });
  label(o.ylabelX, 843, 'Relative RNA expression', 7.4, { anchor: 'middle', rotate: -90, fill: '#333', spacing: -0.28 });

  // signs, dose wedges, group lines
  ['-', '+', '+', '-', '+', '+'].forEach(function (s, i) {
    label(x(conditions[i]), 909.5, s, 13, { weight: 'bold', anchor: 'middle', fill: '#222' });
  });
  label(o.zikvX, 908.5, 'ZIKV', 9.6, { fill: '#222' });
  o.wedges.forEach(function (w) {
    svg.append('path').attr('d', d3.line()([[w[0], 922.3], [w[1], 922.3], [w[1], 911.7]])).attr('fill', '#3f3f3f');
  });
  o.lines.forEach(function (l) { hLine(l[0], l[1], 924.3, '#888', 0.8); });
  label(o.wtX, 934.5, 'WT', 7.6, { anchor: 'middle', fill: '#222', spacing: -0.3 });
  label(o.koX, 934.5, 'ATF3 KO', 7.6, { anchor: 'middle', fill: '#222', spacing: -0.3 });

  o.sig.forEach(function (s) {
    hLine(s[0], s[1], s[2], '#555', 0.7);
    label((s[0] + s[1]) / 2 + (s[4] || 0), s[2] - (s[3] === 'ns' ? 3 : 1.2), s[3], s[3] === 'ns' ? 6.4 : 7, { anchor: 'middle', weight: s[3] === 'ns' ? 'normal' : 'bold', fill: '#222' });
  });
}
function expFormat(d) { return d === 0 ? '0' : (d / 1000) + '\u00D710\u00B3'; }

drawBars({
  title: 'IFNB1', titleX: 102.3, ylabelX: 18, axisX: 49.3, axisEnd: 166.7, y0: 896, yTop: 786.7, max: 5000,
  centers: [61.7, 79.3, 97.7, 117.3, 135, 153.7], means: ifnb1Means, errs: ifnb1Errs, pts: ifnb1Pts,
  ticks: [0, 1000, 2000, 3000, 4000, 5000], format: expFormat, zikvX: 163.3,
  wedges: [[76.7, 105], [132.3, 161]], lines: [[57.3, 105.3], [112.7, 160.7]], wtX: 80.7, koX: 137,
  sig: [[97.3, 154, 785, '****'], [81, 133.3, 796.7, 'ns']]
});
drawBars({
  title: 'STAT1', titleX: 280, ylabelX: 215, axisX: 231.7, axisEnd: 351.7, y0: 895.7, yTop: 789, max: 10,
  centers: [244, 263, 282, 301.3, 320.3, 339.3], means: stat1Means, errs: stat1Errs, pts: stat1Pts,
  ticks: [0, 2, 4, 6, 8, 10], format: d3.format('d'), zikvX: 348.7,
  wedges: [[258.3, 287.7], [316, 345]], lines: [[239.3, 288.7], [296, 345.3]], wtX: 263.3, koX: 321,
  sig: [[282.3, 336.7, 785.3, '**'], [262, 321, 794.7, '***']]
});
drawBars({
  title: 'IFIT1', titleX: 484, ylabelX: 400, axisX: 428.3, axisEnd: 552.7, y0: 896.7, yTop: 780.7, max: 8000,
  centers: [441.7, 460.7, 480.7, 501, 520, 539.3], means: ifit1Means, errs: ifit1Errs, pts: ifit1Pts,
  ticks: [0, 2000, 4000, 6000, 8000], format: expFormat, zikvX: 548.3,
  wedges: [[458.3, 487.7], [516.7, 546]], lines: [[439.3, 487.7], [497, 546]], wtX: 460.7, koX: 519.7,
  sig: [[479.3, 541.7, 781, '***'], [460.7, 520, 790, '**']]
});

// ---------- panel J ----------
function drawElisa() {
  let y = d3.scaleLinear().domain([0, 1000]).range([1082.3, 975.7]);
  let x = d3.scaleBand().domain(elisaGroups).range([52.7, 107.3]).padding(0.16);
  let fills = ['#5b6ac0', '#ff7575'];
  let g = svg.append('g');
  g.selectAll('rect').data(elisaMeans).enter().append('rect')
    .attr('x', function (d, i) { return x(elisaGroups[i]); })
    .attr('width', x.bandwidth())
    .attr('y', function (d) { return y(d); })
    .attr('height', function (d) { return y(0) - y(d); })
    .attr('fill', function (d, i) { return fills[i]; })
    .attr('stroke', '#888').attr('stroke-width', 0.6);
  elisaGroups.forEach(function (name, i) {
    let cx = x(name) + x.bandwidth() / 2;
    let hi = y(elisaMeans[i] + elisaErrs[i]);
    let lo = y(elisaMeans[i] - elisaErrs[i]);
    g.append('line').attr('x1', cx).attr('x2', cx).attr('y1', hi).attr('y2', lo).attr('stroke', '#111').attr('stroke-width', 0.7);
    g.append('line').attr('x1', cx - 4).attr('x2', cx + 4).attr('y1', hi).attr('y2', hi).attr('stroke', '#111').attr('stroke-width', 0.7);
    g.append('line').attr('x1', cx - 4).attr('x2', cx + 4).attr('y1', lo).attr('y2', lo).attr('stroke', '#111').attr('stroke-width', 0.7);
    g.selectAll('.pt' + i).data(elisaPts[i]).enter().append('circle')
      .attr('cx', function (d, j) { return cx + [0, 2.5, -0.5][j]; })
      .attr('cy', function (d) { return y(d); })
      .attr('r', 1.1).attr('fill', '#222');
  });
  let yAxis = g.append('g').attr('transform', 'translate(48.3,0)')
    .call(d3.axisLeft(y).tickValues([0, 200, 400, 600, 800, 1000]).tickSize(2.5).tickSizeOuter(0));
  yAxis.selectAll('text').attr('font-size', 5.8).attr('fill', '#333').attr('dx', '0.2em');
  let xAxis = g.append('g').attr('transform', 'translate(0,1082.3)');
  hLine(48.3, 111.7, 1082.3, '#222', 0.8);
  elisaGroups.forEach(function (name) {
    let cx = x(name) + x.bandwidth() / 2;
    xAxis.append('line').attr('x1', cx).attr('x2', cx).attr('y1', 0).attr('y2', 2.5).attr('stroke', '#222').attr('stroke-width', 0.6);
    label(cx, 1092, name, 6, { anchor: 'middle', fill: '#333' });
  });
  hLine(66.3, 94.3, 991, '#555', 0.7);
  label(80.3, 991, '*', 7, { anchor: 'middle', weight: 'bold' });
  label(28, 1027.5, 'IFN-beta (pg/ml)', 6.4, { anchor: 'middle', rotate: -90, fill: '#333' });
  label(66, 1101, 'ZIKV Infected cells', 6.8, { anchor: 'middle', fill: '#222' });
}
drawElisa();

// ---------- panels K, L ----------
function drawBlotPanel(o) {
  let lane = d3.scaleOrdinal().domain(blotLanes).range(o.signs);
  let rows = [
    { name: o.names[0], bands: o.bands[0], top: 1001.7, h: 17.6, bh: 1.7 },
    { name: o.names[1], bands: o.bands[1], top: 1022.7, h: 18, bh: 2.9 },
    { name: o.names[2], bands: o.bands[2], top: 1050.7, h: 18.3, bh: 1.4, split: o.split },
    { name: o.names[3], bands: o.bands[3], top: 1073.3, h: 17.4, bh: 2.3 }
  ];
  rows.forEach(function (r) {
    svg.append('rect').attr('x', o.left).attr('y', r.top).attr('width', o.right - o.left).attr('height', r.h)
      .attr('fill', '#ececec').attr('stroke', '#777').attr('stroke-width', 0.7);
    (r.split ? [-2, 1.8] : [0]).forEach(function (shift) {
      svg.append('g').selectAll('ellipse').data(r.bands).enter().append('ellipse')
        .attr('cx', function (d, i) { return lane(blotLanes[i]); })
        .attr('cy', r.top + r.h / 2 + shift)
        .attr('rx', 10.5)
        .attr('ry', function (d) { return r.bh * (0.55 + d * 0.45); })
        .attr('fill', '#0c0c0c')
        .attr('opacity', function (d) { return d; })
        .attr('filter', 'url(#bandBlur)');
    });
    label(o.labelX, r.top + r.h / 2 + 3.5, r.name, 9.8, { fill: '#222' });
  });
  hLine(o.hdr[0], o.hdr[1], 987.7, '#222', 0.9);
  hLine(o.hdr[2], o.hdr[3], 987.7, '#222', 0.9);
  label((o.hdr[0] + o.hdr[1]) / 2, 982.5, 'WT', 10, { anchor: 'middle', fill: '#222' });
  label((o.hdr[2] + o.hdr[3]) / 2, 982.5, 'ATF3 KO', 10, { anchor: 'middle', fill: '#222' });
  ['-', '+', '-', '+'].forEach(function (s, i) {
    label(o.signs[i], 997, s, 8, { anchor: 'middle', weight: 'bold', fill: '#333' });
  });
  label(o.labelX, 997.5, 'ZIKV', 10, { fill: '#222' });
  label(o.hashX, 1027, '#', 14, { anchor: 'middle', weight: 'bold', fill: '#222' });
  svg.append('line').attr('x1', o.hashLine).attr('x2', o.hashLine).attr('y1', 1002).attr('y2', 1040.5)
    .attr('stroke', '#333').attr('stroke-width', 0.9);
}
drawBlotPanel({
  left: 186.3, right: 294.7, labelX: 299.7, hashX: 171, hashLine: 181, split: true,
  names: ['STAT1', 'GAPDH', 'p-STAT1', 'GAPDH'],
  bands: [stat1Band, gapdhK1Band, pStat1Band, gapdhK2Band],
  hdr: [189, 240.7, 247.3, 293.3], signs: [204, 230.7, 257.7, 280]
});
drawBlotPanel({
  left: 391.7, right: 501.7, labelX: 507, hashX: 377, hashLine: 386, split: false,
  names: ['IFIT1', 'GAPDH', 'MX1', 'GAPDH'],
  bands: [ifit1Band, gapdhL1Band, mx1Band, gapdhL2Band],
  hdr: [393.3, 446.7, 453.7, 500], signs: [408.3, 435.3, 463.3, 488.7]
});
</script>
</body>
</html>
